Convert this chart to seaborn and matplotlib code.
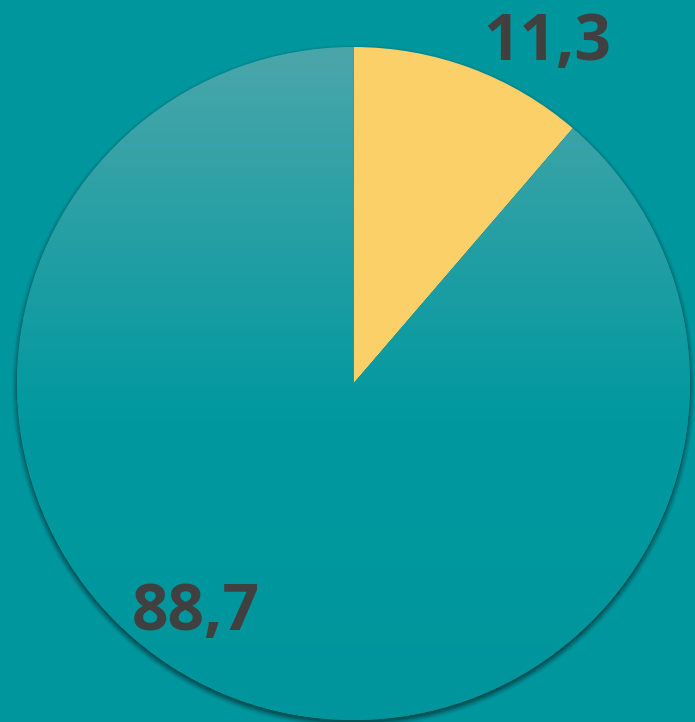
import numpy as np
import matplotlib
matplotlib.use("Agg")
import matplotlib.pyplot as plt
import seaborn as sns
from matplotlib.colors import LinearSegmentedColormap

# Data
categories = ["A", "B"]
values = [11.3, 88.7]
labels = ["11,3", "88,7"]
colors = ["#FCD068", "#00979F"]

sns.set_theme(style="white")
plt.rcParams['font.family'] = ['Open Sans', 'DejaVu Sans']

W, H = 695, 722
BG = "#00969E"
fig = plt.figure(figsize=(W / 100, H / 100), dpi=100, facecolor=BG)
ax = fig.add_axes([0, 0, 1, 1])
ax.set_facecolor(BG)

cx, cy, r = 353.5, H - 383.5, 336.5

# soft shadow under the pie
yy, xx = np.mgrid[0:H, 0:W]
d = np.hypot(xx + 0.5 - cx, (H - yy - 0.5) - (cy - 3))
a = np.clip(1 - (d - r + 1) / 7.0, 0, 1) ** 1.5 * 0.45
shadow = np.zeros((H, W, 4))
shadow[..., 3] = a
ax.imshow(shadow, extent=(0, W, 0, H), origin="upper", zorder=0.5, interpolation="bilinear")

wedges, _ = ax.pie(values, colors=colors, startangle=90, counterclock=False,
                   radius=r, center=(cx, cy), frame=True,
                   wedgeprops=dict(linewidth=0, zorder=1))

# gradient on the big slice
cmap = LinearSegmentedColormap.from_list("g", [(0, "#4BA6AA"), (0.55, "#00999F"), (1, "#00959C")])
grad = np.linspace(0, 1, 256).reshape(-1, 1)
im = ax.imshow(grad, cmap=cmap, extent=(cx - r, cx + r, cy - r, cy + r),
               origin="upper", aspect="auto", zorder=1.5)
im.set_clip_path(wedges[1])

ax.text(547, H - 44, labels[0], ha="center", va="center", fontsize=46,
        fontweight="bold", color="#404040", zorder=3)
ax.text(196, H - 613, labels[1], ha="center", va="center", fontsize=46,
        fontweight="bold", color="#404040", zorder=3)

ax.set_xlim(0, W)
ax.set_ylim(0, H)
ax.set_aspect("auto")
ax.axis("off")

fig.savefig("out.png", dpi=100, facecolor=BG)
